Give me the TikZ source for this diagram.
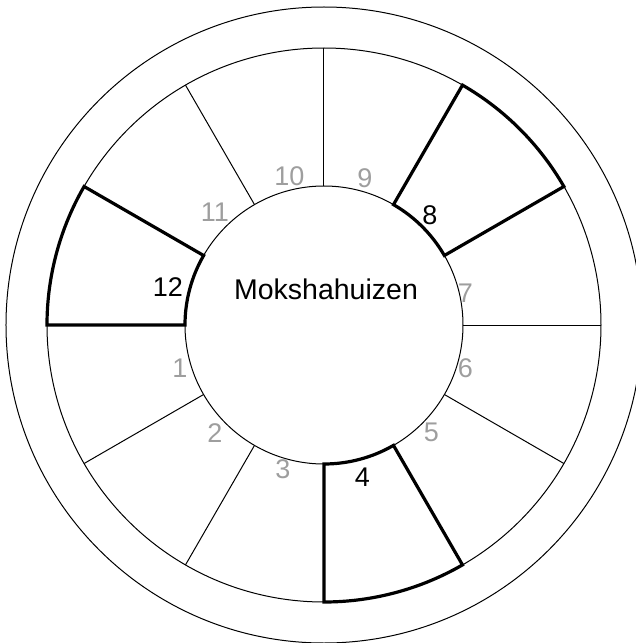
\documentclass[tikz,border=0pt]{standalone}
\usepackage{fontspec}
\setmainfont{Liberation Sans}
\usetikzlibrary{positioning}

\begin{document}
\begin{tikzpicture}[
    x=1pt, y=1pt,
    thinline/.style={draw=black, line width=1pt},
    mokshaline/.style={draw=black, line width=3.2pt, line join=miter},
    hnum/.style={font=\fontsize{27}{27}\selectfont, text=black!38, inner sep=0pt},
    mnum/.style={hnum, text=black},
    title/.style={font=\fontsize{28.5}{28.5}\selectfont, inner sep=0pt}
]
\useasboundingbox (-324,-318) rectangle (311,325);
\coordinate (c) at (0,0);

% circles
\draw[thinline] (c) circle (318);
\draw[thinline] (c) circle (277);
\draw[thinline] (c) circle (139);

% house dividers
\foreach \a in {0,30,...,330}
  \draw[thinline] (\a:139) -- (\a:277);

% moksha houses 4, 8, 12
\foreach \a [evaluate=\a as \b using \a+30] in {270,30,150}
  \draw[mokshaline] (\a:139) -- (\a:277)
    arc[start angle=\a, end angle=\b, radius=277] -- (\b:139)
    arc[start angle=\b, end angle=\a, radius=139] -- cycle;

% house numbers
\foreach \n/\x/\y in {1/-144/-43, 2/-109/-108, 3/-41/-144, 5/107.5/-107,
    6/141.5/-43, 7/141.5/32, 9/41/146.5, 10/-34.5/149, 11/-109/113}
  \node[hnum] (h\n) at (\x,\y) {\n};
\foreach \n/\x/\y in {4/38.5/-152, 8/106/110, 12/-156/38}
  \node[mnum] (h\n) at (\x,\y) {\n};

\node[title] (moksha) at (2,36) {Mokshahuizen};

\end{tikzpicture}
\end{document}
